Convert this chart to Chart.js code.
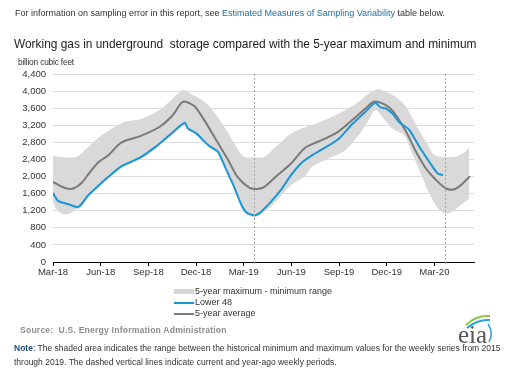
<!DOCTYPE html>
<html><head><meta charset="utf-8">
<script src="https://cdn.jsdelivr.net/npm/chart.js@4.4.1/dist/chart.umd.min.js"></script>
<style>
html,body{margin:0;padding:0;background:#fff;}
#wrap{position:relative;width:512px;height:370px;overflow:hidden;font-family:"Liberation Sans",Arial,sans-serif;}
#c{position:absolute;left:0;top:0;}
.t{position:absolute;white-space:nowrap;color:#333;}
#info{left:15px;top:8px;font-size:9px;color:#333;}
#info span{color:#1f6ea5;}
#title{left:14px;top:37px;font-size:11.9px;color:#222;}
#unit{left:18px;top:57px;font-size:8.4px;color:#333;letter-spacing:-0.2px;}
.leg{position:absolute;left:174px;font-size:9px;color:#333;white-space:nowrap;}
.sw{display:inline-block;width:20px;vertical-align:middle;margin-right:1px;}
#source{left:20px;top:325px;font-size:8.6px;font-weight:bold;color:#8c8c8c;letter-spacing:0.2px;}
#note{left:14px;top:341px;font-size:8.5px;color:#333;line-height:14px;}
#note b{color:#1f4e79;}
#logo{position:absolute;left:452px;top:312px;}
</style></head>
<body><div id="wrap">
<canvas id="c" width="512" height="370"></canvas>
<div class="t" id="info">For information on sampling error in this report, see <span>Estimated Measures of Sampling Variability</span> table below.</div>
<div class="t" id="title">Working gas in underground&nbsp; storage compared with the 5-year maximum and minimum</div>
<div class="t" id="unit">billion cubic feet</div>
<div class="leg" style="top:286px"><span class="sw" style="height:5px;background:#d6d6d6"></span>5-year maximum - minimum range</div>
<div class="leg" style="top:297px"><span class="sw" style="height:2px;background:#1a96d4"></span>Lower 48</div>
<div class="leg" style="top:308px"><span class="sw" style="height:2px;background:#7a7a7a"></span>5-year average</div>
<div class="t" id="source">Source:&nbsp; U.S. Energy Information Administration</div>
<div class="t" id="note"><b>Note</b>: The shaded area indicates the range between the historical minimum and maximum values for the weekly series from 2015<br>through 2019. The dashed vertical lines indicate current and year-ago weekly periods.</div>
<svg id="logo" width="44" height="34" viewBox="0 0 44 34">
<path d="M14 13 Q24 3 38 4" stroke="#8cc63f" stroke-width="2" fill="none"/>
<path d="M15 16 Q26 7 38 8" stroke="#2aa0d8" stroke-width="2" fill="none"/>
<path d="M36 12 Q42 21 37 30" stroke="#2aa0d8" stroke-width="1.5" fill="none"/>
<text x="6" y="31" font-family="Liberation Serif, serif" font-size="25" fill="#555">eia</text>
</svg>
</div>
<script>
const tickWeeks = [0,13,26,39,52,65,78,91,104];
const tickLabels = ['Mar-18','Jun-18','Sep-18','Dec-18','Mar-19','Jun-19','Sep-19','Dec-19','Mar-20'];
const markerWeeks = [54.9, 106.9];

const maxWeeks = [0,6.0,9.1,12.3,15.9,19.6,23.8,29.1,32.7,35.4,38.2,41.8,44.5,47.2,50.0,52.1,54.9,57.6,61.2,64.9,68.5,71.8,76.1,79.7,83.4,86.1,88.4,90.7,93.4,96.3,99.0,101.7,104.0,106.3,109.5,111.7,113.5];
const maxValues = [2480,2450,2650,2900,3110,3280,3340,3556,3830,4025,3907,3713,3440,3100,2700,2461,2447,2461,2735,3010,3150,3244,3400,3556,3750,3947,4041,3985,3868,3633,3204,2813,2500,2461,2461,2541,2681];

const minWeeks = [0,1.4,3.1,4.7,6.4,7.5,9.6,12.3,15.1,18.7,23.8,28.2,31.8,35.9,36.8,39.1,40.9,42.7,45.0,46.8,48.1,49.4,51.2,52.6,54.9,56.7,60.3,64.9,68.5,70.7,76.1,79.7,83.4,86.1,87.9,90.2,92.5,95.7,97.2,99.9,102.6,105.4,107.2,109.5,111.7,113.5];
const minValues = [1400,1180,1118,1140,1240,1260,1520,1740,1950,2200,2400,2670,2930,3200,3090,2970,2810,2670,2530,2200,1950,1700,1320,1120,1050,1110,1369,1798,1993,2227,2461,2618,2970,3322,3556,3361,3127,2970,2696,2150,1603,1212,1134,1212,1369,1486];

const avgWeeks = [0,2.0,3.7,5.5,7.8,9.6,12.3,15.1,18.7,23.8,29.1,32.7,35.4,38.2,39.1,41.8,44.5,47.8,50.3,53.5,55.8,57.6,61.2,64.9,68.5,70.7,74.3,78.0,81.6,85.2,87.5,89.8,92.0,93.8,96.3,99.0,101.7,104.5,107.2,109.5,111.7,113.7];
const avgValues = [1875,1780,1720,1720,1850,2050,2330,2500,2800,2946,3165,3440,3750,3673,3595,3244,2853,2384,1993,1743,1711,1758,2032,2306,2658,2759,2892,3064,3322,3595,3750,3713,3595,3400,3047,2578,2189,1915,1720,1704,1838,2009];

const lowerWeeks = [0,1.4,4.2,6.9,9.6,12.3,15.1,18.7,23.8,28.2,31.8,35.9,36.8,39.1,40.9,42.7,45.0,46.8,48.1,49.4,51.2,52.6,54.9,56.7,59.4,62.1,64.9,67.6,70.7,74.3,78.0,81.6,85.2,87.0,87.9,89.3,90.7,92.5,94.3,95.7,97.2,99.9,102.6,104.9,106.3];
const lowerValues = [1617,1430,1352,1290,1563,1780,1993,2243,2447,2712,2970,3258,3127,3010,2853,2712,2578,2250,2000,1758,1369,1172,1095,1172,1406,1681,2032,2306,2500,2681,2892,3228,3516,3673,3727,3619,3595,3478,3282,3190,3087,2696,2344,2072,2032];

const pts = (xs, ys) => xs.map((x, i) => ({x: x, y: ys[i]}));

const markerPlugin = {
  id: 'markers',
  afterDatasetsDraw(chart) {
    const {ctx, chartArea, scales} = chart;
    ctx.save();
    ctx.strokeStyle = '#a8a8a8';
    ctx.lineWidth = 1;
    ctx.setLineDash([2, 2]);
    markerWeeks.forEach(w => {
      const px = Math.round(scales.x.getPixelForValue(w)) + 0.5;
      ctx.beginPath();
      ctx.moveTo(px, chartArea.top);
      ctx.lineTo(px, chartArea.bottom + 3);
      ctx.stroke();
    });
    ctx.restore();
  }
};

new Chart(document.getElementById('c'), {
  type: 'line',
  data: {
    datasets: [
      {label: '5-year maximum', data: pts(maxWeeks, maxValues), borderWidth: 0, borderColor: 'rgba(0,0,0,0)', pointRadius: 0, fill: {target: 1}, backgroundColor: '#d9d9d9', tension: 0.3, order: 3},
      {label: '5-year minimum', data: pts(minWeeks, minValues), borderWidth: 0, borderColor: 'rgba(0,0,0,0)', pointRadius: 0, fill: false, tension: 0.3, order: 3},
      {label: '5-year average', data: pts(avgWeeks, avgValues), borderColor: '#7a7a7a', borderWidth: 2, pointRadius: 0, fill: false, tension: 0.3, order: 1},
      {label: 'Lower 48', data: pts(lowerWeeks, lowerValues), borderColor: '#1a96d4', borderWidth: 2, pointRadius: 0, fill: false, tension: 0.25, order: 0}
    ]
  },
  options: {
    responsive: false,
    animation: false,
    devicePixelRatio: 1,
    layout: {padding: {left: 0, top: 74, right: 38, bottom: 84}},
    plugins: {legend: {display: false}, tooltip: {enabled: false}},
    scales: {
      x: {
        type: 'linear', min: 0, max: 114.8,
        afterBuildTicks: s => { s.ticks = tickWeeks.map(v => ({value: v})); },
        afterFit: s => { s.height = 24; },
        ticks: {
          callback: v => tickLabels[tickWeeks.indexOf(v)] || '',
          color: '#333', font: {family: 'Liberation Sans', size: 9.5}, padding: 1, maxRotation: 0, autoSkip: false
        },
        grid: {drawOnChartArea: false, drawTicks: true, tickLength: 4, color: '#000'},
        border: {display: true, color: '#000', width: 1}
      },
      y: {
        min: 0, max: 4400,
        afterBuildTicks: s => { const t = []; for (let v = 0; v <= 4400; v += 400) t.push({value: v}); s.ticks = t; },
        afterFit: s => { s.width = 53; },
        ticks: {color: '#333', font: {family: 'Liberation Sans', size: 9.5}, padding: 7},
        grid: {color: '#dcdcdc', drawTicks: false},
        border: {display: false}
      }
    }
  },
  plugins: [markerPlugin]
});
</script>
</body></html>
